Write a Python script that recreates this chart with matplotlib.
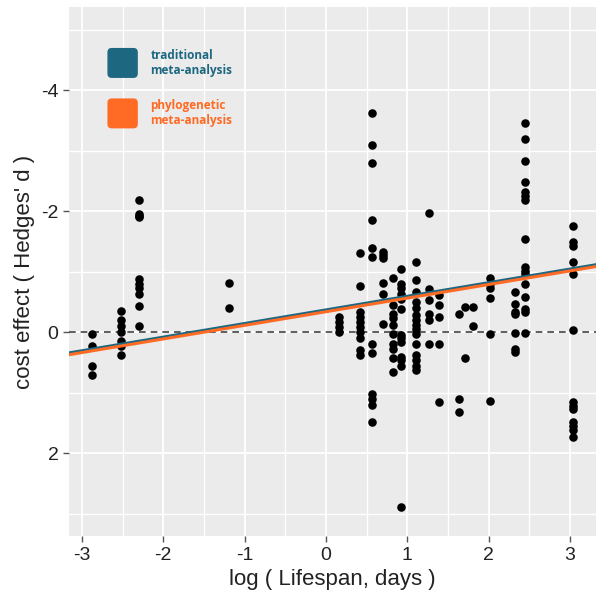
import numpy as np
import matplotlib.pyplot as plt
from matplotlib.patches import FancyBboxPatch

plt.rcParams['font.family'] = ['Liberation Sans', 'DejaVu Sans']
plt.rcParams['axes.unicode_minus'] = False

# lifespan columns (log days) and the effect sizes seen at each
col_x = [-2.87, -2.52, -2.30, -1.19, 0.16, 0.42, 0.56, 0.70, 0.82, 0.92,
         1.10, 1.26, 1.39, 1.63, 1.71, 1.81, 2.01, 2.32, 2.44, 3.03]
col_y = [
    [0.03, 0.23, 0.56, 0.71],
    [-0.36, -0.20, -0.10, 0.0, 0.15, 0.23, 0.37],
    [-2.19, -1.96, -1.92, -1.90, -0.88, -0.80, -0.74, -0.63, -0.43, -0.10],
    [-0.82, -0.40],
    [-0.25, -0.17, -0.09, -0.01],
    [-1.31, -0.76, -0.34, -0.25, -0.17, -0.09, 0.0, 0.09, 0.30, 0.38],
    [-3.62, -3.10, -2.79, -1.86, -1.40, -1.24, 0.20, 0.35, 1.02, 1.11, 1.20, 1.49],
    [-1.33, -1.27, -1.22, -0.82, -0.64, -0.13],
    [-0.89, -0.45, -0.31, -0.23, -0.12, 0.02, 0.19, 0.27, 0.42, 0.66],
    [-1.04, -0.80, -0.74, -0.64, -0.55, -0.39, 0.05, 0.10, 0.16, 0.41, 0.46, 0.55, 2.89],
    [-1.16, -0.86, -0.67, -0.50, -0.40, -0.28, -0.20, -0.12, -0.05, 0.02, 0.19, 0.38, 0.46, 0.55, 0.62],
    [-1.97, -0.72, -0.53, -0.30, -0.21, 0.19],
    [-0.61, -0.45, -0.25, 0.20, 1.15],
    [-0.31, 1.10, 1.32],
    [-0.41, 0.42],
    [-0.42, -0.10],
    [-0.89, -0.80, -0.73, -0.56, 0.03, 1.14],
    [-0.67, -0.46, -0.34, -0.30, 0.01, 0.27, 0.33],
    [-3.45, -3.19, -2.83, -2.48, -2.32, -2.25, -2.18, -1.54, -1.08, -1.02, -0.96, -0.80, -0.58, -0.39, -0.34, 0.01],
    [-1.76, -1.50, -1.42, -1.16, -0.97, -0.03, 1.15, 1.21, 1.26, 1.48, 1.55, 1.62, 1.73],
]

# meta-regression fits: intercept, slope
trad_fit = [-0.37, -0.225]
phylo_fit = [-0.34, -0.225]

xs = np.concatenate([[x] * len(ys) for x, ys in zip(col_x, col_y)])
ys = np.concatenate(col_y)

blue = '#1d6780'
orange = '#ff6a24'

fig = plt.figure(figsize=(6.04, 6.08), dpi=100)
ax = fig.add_axes([0.114, 0.118, 0.873, 0.870])
ax.set_facecolor('#ebebeb')
for s in ax.spines.values():
    s.set_visible(False)

xlim = (-3.16, 3.32)
ylim = (3.37, -5.37)
ax.set_xlim(xlim)
ax.set_ylim(ylim)

ax.set_xticks([-3, -2, -1, 0, 1, 2, 3])
ax.set_xticks(np.arange(-2.5, 3.3, 1.0), minor=True)
ax.set_yticks([-4, -2, 0, 2])
ax.set_yticks([-5, -3, -1, 1, 3], minor=True)
ax.grid(which='major', color='white', lw=1.3)
ax.grid(which='minor', color='white', lw=1.0)
ax.set_axisbelow(True)
ax.tick_params(which='major', length=4, width=1, color='#555555',
               labelsize=14, labelcolor='#222222')
ax.tick_params(which='minor', length=0)

ax.axhline(0, color='#444444', lw=1.2, ls=(0, (4, 3)))

ax.scatter(xs, ys, s=38, color='black', zorder=3, linewidths=0)

lx = np.array(xlim)
ax.plot(lx, trad_fit[0] + trad_fit[1] * lx, color=blue, lw=2.2, zorder=4)
ax.plot(lx, phylo_fit[0] + phylo_fit[1] * lx, color=orange, lw=2.2, zorder=5)

ax.set_xlabel('log ( Lifespan, days )', fontsize=16, color='#222222')
ax.set_ylabel("cost effect ( Hedges' d )", fontsize=16, color='#222222')

# legend boxes drawn in figure coords
for (y0, c, txt) in [(0.875, blue, 'traditional\nmeta-analysis'),
                     (0.792, orange, 'phylogenetic\nmeta-analysis')]:
    box = FancyBboxPatch((0.181, y0), 0.044, 0.043,
                         boxstyle='round,pad=0.002,rounding_size=0.006',
                         transform=fig.transFigure, color=c, zorder=6)
    fig.patches.append(box)
    fig.text(0.249, y0 + 0.0215, txt, color=c, fontsize=8.5,
             fontweight='bold', family='Open Sans', va='center', ha='left',
             linespacing=1.2)

fig.savefig('out.png', dpi=100)
